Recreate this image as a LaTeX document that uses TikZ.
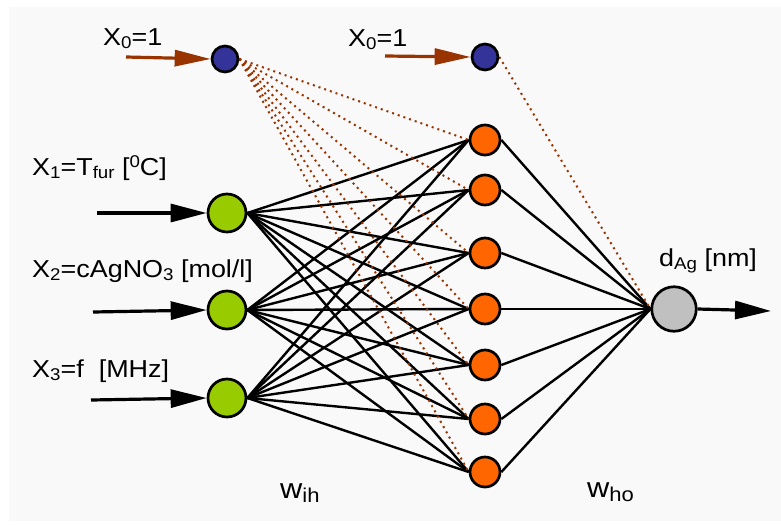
\documentclass[tikz,border=0pt]{standalone}
\usepackage{fontspec}
\setmainfont{Liberation Sans}[FakeStretch=1.1]
\usetikzlibrary{arrows.meta}
\pgfdeclarelayer{bgzero}
\pgfdeclarelayer{edges}
\pgfsetlayers{bgzero,edges,main}
\definecolor{bgc}{HTML}{F9F9F9}
\definecolor{biasc}{HTML}{333399}
\definecolor{inc}{HTML}{99CC00}
\definecolor{hidc}{HTML}{FF6600}
\definecolor{outc}{HTML}{C0C0C0}
\definecolor{brn}{HTML}{993300}
\newcommand\lsub[1]{\raisebox{-3pt}{\fontsize{17}{17}\selectfont #1}}
\newcommand\lsup[1]{\raisebox{8pt}{\fontsize{17}{17}\selectfont #1}}
\newcommand\wsub[1]{\raisebox{-4pt}{\fontsize{20}{20}\selectfont #1}}
\begin{document}
\begin{tikzpicture}[x=1pt,y=-1pt,
  neuron/.style={circle,draw=black,line width=2.7pt,inner sep=0pt,minimum size=#1},
  biasn/.style={neuron=26pt,fill=biasc},
  inn/.style={neuron=38pt,fill=inc},
  hidn/.style={neuron=30pt,fill=hidc},
  outn/.style={neuron=44.5pt,fill=outc},
  wline/.style={line width=2.4pt,black},
  bline/.style={line width=2pt,brn,dash pattern=on 2pt off 4pt},
  inarrow/.style={line width=3.2pt,-{Triangle[length=36pt,width=18pt]}},
  barrow/.style={line width=3.2pt,brn,-{Triangle[length=36pt,width=16pt]}},
  lbl/.style={anchor=base west,inner sep=0pt,font=\fontsize{24.5}{24.5}\selectfont},
  wlbl/.style={anchor=base west,inner sep=0pt,font=\fontsize{28}{28}\selectfont}]
\useasboundingbox (0,0) rectangle (781,525);
\begin{pgfonlayer}{bgzero}
\fill[white] (0,0) rectangle (781,525);
\fill[bgc] (9,7) rectangle (781,521);
\end{pgfonlayer}
% nodes
\node[biasn] (b1) at (225,59) {};
\node[biasn] (b2) at (485,57) {};
\node[inn] (i1) at (227,213) {};
\node[inn] (i2) at (227,310) {};
\node[inn] (i3) at (227,398) {};
\foreach \k/\y in {1/140,2/190,3/253,4/309,5/365,6/419,7/472}
  \node[hidn] (h\k) at (485,\y) {};
\node[outn] (o) at (674,309) {};
% free ends
\coordinate (a1) at (126,57);
\coordinate (a2) at (385,56);
\coordinate (x1) at (97,213);
\coordinate (x2) at (93,312);
\coordinate (x3) at (91,400);
\coordinate (y) at (771,311);
% edges
\begin{pgfonlayer}{edges}
\foreach \i in {1,2,3}
  \foreach \k in {1,...,7}
    \draw[wline] (i\i.east) -- (h\k.west);
\foreach \k in {1,...,7} {
  \draw[bline] (b1.east) -- (h\k.west);
  \draw[wline] (h\k.east) -- (o.west);
}
\draw[bline] (b2.east) -- (o.west);
\end{pgfonlayer}
% arrows
\draw[barrow] (a1) -- (b1.west);
\draw[barrow] (a2) -- (b2.west);
\draw[inarrow] (x1) -- (i1.west);
\draw[inarrow] (x2) -- (i2.west);
\draw[inarrow] (x3) -- (i3.west);
\draw[inarrow] (o.east) -- (y);
% labels
\node[lbl] (l0a) at (103,45) {X\lsub{0}=1};
\node[lbl] (l0b) at (348,46) {X\lsub{0}=1};
\node[lbl] (l1) at (32,175) {X\lsub{1}=T\lsub{fur} [\lsup{0}C]};
\node[lbl] (l2) at (32,277) {X\lsub{2}=cAgNO\lsub{3} [mol/l]};
\node[lbl] (l3) at (32,377) {X\lsub{3}=f\ \ [MHz]};
\node[lbl] (ld) at (659,266) {d\lsub{Ag} [nm]};
\node[wlbl] (wih) at (280,498) {w\wsub{ih}};
\node[wlbl] (who) at (587,497) {w\wsub{ho}};
\end{tikzpicture}
\end{document}
